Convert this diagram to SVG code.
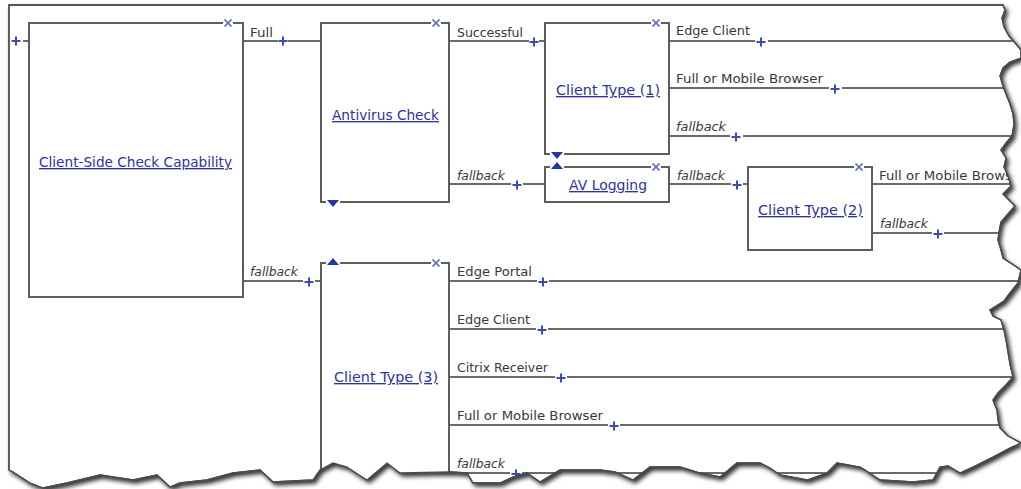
<svg xmlns="http://www.w3.org/2000/svg" xmlns:xlink="http://www.w3.org/1999/xlink" width="1021" height="489" viewBox="0 0 1021 489">
<style>
.box{fill:#fff;stroke:#5e5e5e;stroke-width:2}
.edge{stroke:#3a3a3a;stroke-width:1.5;fill:none}
.lbl{font-family:"DejaVu Sans","Liberation Sans",sans-serif;font-size:12.5px;fill:#383838}
.fb{font-style:italic}
.link{font-family:"DejaVu Sans","Liberation Sans",sans-serif;font-size:13.5px;fill:#2f32a0;text-decoration:underline}
.plus{stroke:#3b4db4;stroke-width:2;fill:none}
.xm{stroke:#5868c0;stroke-width:1.7;fill:none}
.tri{fill:#25369a}
.gap{stroke:#fff;stroke-width:3}
</style>
<defs>
<path id="torn" d="M9,5 H1003 L1005,10 1002,18 1004,27 1009,36 1016,44 1021,50 1021,58 1010,62 1003,68 1000,76 1003,86 1006,94 1010,104 1013,114 1014,124 1012,136 1006,143 1001,150 1006,158 1004,167 1008,176 1011,186 1003,194 1009,200 1015,206 1008,214 1001,222 999,232 998,240 1001,250 1003,258 1012,264 1021,270 1018,283 1010,293 1004,301 990,310 993,316 1001,320 1004,330 1006,340 1008,352 1010,364 1013,377 1006,385 998,393 993,400 997,410 998,420 1000,428 1008,436 1021,443 1010,448 993,457 973,467 960,473 948,466 940,467 933,480 913,482 880,480 865,470 860,467 837,463 827,473 807,480 780,475 770,468 760,463 737,463 720,477 700,473 680,467 650,467 633,480 615,472 600,470 560,470 540,482 527,473 513,477 500,483 473,483 467,473 450,472 400,473 387,463 367,480 347,467 333,463 320,470 313,480 273,482 260,470 233,473 207,480 180,483 170,487 157,475 133,480 100,475 67,483 43,488 30,483 13,472 9,470 Z"/>
<clipPath id="clip"><use xlink:href="#torn"/></clipPath>
<filter id="shadow" x="-5%" y="-5%" width="110%" height="115%">
<feDropShadow dx="2.5" dy="3" stdDeviation="2" flood-color="#000" flood-opacity="0.8"/>
</filter>
<path id="p" class="plus" d="M-4.5,0H4.5M0,-4.5V4.5"/>
<path id="x" class="xm" d="M-3.5,-3.5L3.5,3.5M3.5,-3.5L-3.5,3.5"/>
</defs>

<use xlink:href="#torn" fill="#fff" stroke="#4a4a4a" stroke-width="1.3" filter="url(#shadow)"/>

<g clip-path="url(#clip)">
<g id="connectors">
<use xlink:href="#p" x="16" y="41"/>
<path class="edge" d="M23,41H29"/>
<path class="edge" d="M243,41H278M288,41H321"/>
<use xlink:href="#p" x="283" y="41"/>
<text class="lbl" x="250" y="37" textLength="23" lengthAdjust="spacingAndGlyphs">Full</text>
<path class="edge" d="M449,41H529M539,41H545"/>
<use xlink:href="#p" x="534" y="42"/>
<text class="lbl" x="457" y="37" textLength="66" lengthAdjust="spacingAndGlyphs">Successful</text>
<path class="edge" d="M449,184H511M523,184H545"/>
<use xlink:href="#p" x="517" y="185"/>
<text class="lbl fb" x="457" y="180" textLength="48" lengthAdjust="spacingAndGlyphs">fallback</text>
<path class="edge" d="M243,281H303M315,281H321"/>
<use xlink:href="#p" x="309" y="282"/>
<text class="lbl fb" x="250" y="276" textLength="48" lengthAdjust="spacingAndGlyphs">fallback</text>
<path class="edge" d="M669,184H731M743,184H748"/>
<use xlink:href="#p" x="737" y="185"/>
<text class="lbl fb" x="677" y="180" textLength="48" lengthAdjust="spacingAndGlyphs">fallback</text>
<path class="edge" d="M669,41H755M768,41H1021"/>
<use xlink:href="#p" x="761" y="42"/>
<text class="lbl" x="676" y="35" textLength="74" lengthAdjust="spacingAndGlyphs">Edge Client</text>
<path class="edge" d="M669,88H829M842,88H1021"/>
<use xlink:href="#p" x="835" y="89"/>
<text class="lbl" x="676" y="83" textLength="147" lengthAdjust="spacingAndGlyphs">Full or Mobile Browser</text>
<path class="edge" d="M669,136H730M743,136H1021"/>
<use xlink:href="#p" x="736" y="137"/>
<text class="lbl fb" x="676" y="131" textLength="50" lengthAdjust="spacingAndGlyphs">fallback</text>
<path class="edge" d="M872,184H1021"/>
<text class="lbl" x="879" y="180" textLength="133" lengthAdjust="spacingAndGlyphs">Full or Mobile Brows</text>
<path class="edge" d="M872,233H932M944,233H1021"/>
<use xlink:href="#p" x="938" y="234"/>
<text class="lbl fb" x="880" y="228" textLength="48" lengthAdjust="spacingAndGlyphs">fallback</text>
<path class="edge" d="M449,281H537M549,281H1021"/>
<use xlink:href="#p" x="543" y="282"/>
<text class="lbl" x="457" y="276" textLength="75" lengthAdjust="spacingAndGlyphs">Edge Portal</text>
<path class="edge" d="M449,329H536M548,329H1021"/>
<use xlink:href="#p" x="542" y="330"/>
<text class="lbl" x="457" y="324" textLength="73" lengthAdjust="spacingAndGlyphs">Edge Client</text>
<path class="edge" d="M449,377H555M567,377H1021"/>
<use xlink:href="#p" x="561" y="378"/>
<text class="lbl" x="457" y="372" textLength="91" lengthAdjust="spacingAndGlyphs">Citrix Receiver</text>
<path class="edge" d="M449,425H608M620,425H1021"/>
<use xlink:href="#p" x="614" y="426"/>
<text class="lbl" x="457" y="420" textLength="146" lengthAdjust="spacingAndGlyphs">Full or Mobile Browser</text>
<path class="edge" d="M449,473H510M522,473H1021"/>
<use xlink:href="#p" x="516" y="474"/>
<text class="lbl fb" x="457" y="468" textLength="48" lengthAdjust="spacingAndGlyphs">fallback</text>
</g>

<g id="node-csc">
<path class="box" d="M29,23H243V297H29Z"/>
<path class="gap" d="M223,23H233"/>
<use xlink:href="#x" x="228" y="23"/>
<text class="link" x="39" y="167" textLength="193" lengthAdjust="spacingAndGlyphs">Client-Side Check Capability</text>
</g>

<g id="node-antivirus">
<path class="box" d="M321,23H449V202H321Z"/>
<path class="gap" d="M431,23H441M326,202H340"/>
<use xlink:href="#x" x="436" y="23"/>
<path class="tri" d="M327,200H339L333,207Z"/>
<text class="link" x="332" y="120" textLength="107" lengthAdjust="spacingAndGlyphs">Antivirus Check</text>
</g>

<g id="node-ct1">
<path class="box" d="M545,23H669V154H545Z"/>
<path class="gap" d="M651,23H661M550,154H564"/>
<use xlink:href="#x" x="656" y="23"/>
<path class="tri" d="M551,152H563L557,159Z"/>
<text class="link" x="556" y="95" textLength="104" lengthAdjust="spacingAndGlyphs">Client Type (1)</text>
</g>

<g id="node-avlogging">
<path class="box" d="M545,167H669V202H545Z"/>
<path class="gap" d="M651,167H661M550,167H564"/>
<use xlink:href="#x" x="656" y="167"/>
<path class="tri" d="M551,169H563L557,162Z"/>
<text class="link" x="569" y="190" textLength="78" lengthAdjust="spacingAndGlyphs">AV Logging</text>
</g>

<g id="node-ct2">
<path class="box" d="M748,167H872V250H748Z"/>
<path class="gap" d="M854,167H864"/>
<use xlink:href="#x" x="859" y="167"/>
<text class="link" x="758" y="215" textLength="105" lengthAdjust="spacingAndGlyphs">Client Type (2)</text>
</g>

<g id="node-ct3">
<path class="box" d="M321,263H449V500H321Z"/>
<path class="gap" d="M431,263H441M326,263H340"/>
<use xlink:href="#x" x="436" y="263"/>
<path class="tri" d="M327,265H339L333,258Z"/>
<text class="link" x="334" y="382" textLength="104" lengthAdjust="spacingAndGlyphs">Client Type (3)</text>
</g>
</g>

<use xlink:href="#torn" fill="none" stroke="#4a4a4a" stroke-width="1.3"/>
</svg>
